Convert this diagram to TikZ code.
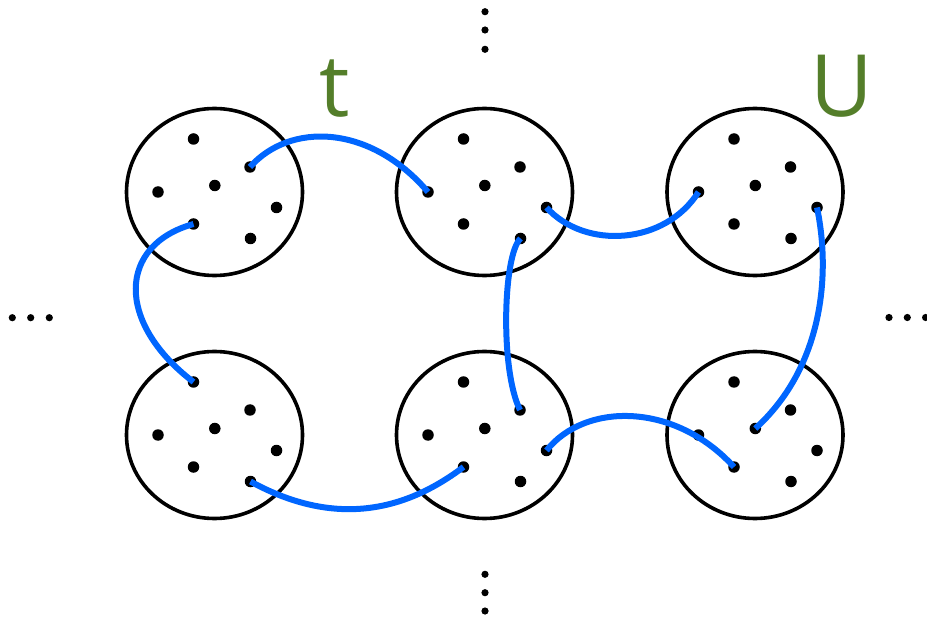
\documentclass[tikz,border=0pt]{standalone}
\usepackage{fontspec}
\setmainfont{Open Sans}
\usetikzlibrary{shapes.geometric}
\definecolor{linkblue}{RGB}{0,102,255}
\definecolor{labelgreen}{RGB}{84,126,42}
\begin{document}
\begin{tikzpicture}[x=1pt,y=-1pt,
  blob/.style={draw=black,line width=3.6pt,ellipse,minimum width=176pt,minimum height=167pt,inner sep=0pt},
  dot/.style={circle,fill=black,minimum size=11.5pt,inner sep=0pt},
  smalldot/.style={circle,fill=black,minimum size=7.2pt,inner sep=0pt},
  link/.style={draw=linkblue,line width=6pt},
  lbl/.style={text=labelgreen,font=\fontsize{86}{90}\selectfont,anchor=base,inner sep=0pt}]
\useasboundingbox (0,0) rectangle (927,620);
\foreach \e/\cx/\cy in {1/214.5/192,2/484.5/192,3/755/192,4/214.5/435,5/484.5/435,6/755/435}{
  \node[blob] (E\e) at (\cx,\cy) {};
  \foreach \d/\dx/\dy in {1/-21/-53,2/35.5/-25,3/0.3/-6.5,4/-56.5/0,5/62/15.5,6/-21/32,7/36/46.5}
    \node[dot] (E\e-\d) at (\cx+\dx,\cy+\dy) {};
}
% ellipsis dots
\foreach \i/\x/\y in {1/485/11.7,2/485/30,3/485/49.3}
  \node[smalldot] (top\i) at (\x,\y) {};
\foreach \i/\x/\y in {1/485/574.3,2/485/592.7,3/485/611}
  \node[smalldot] (bot\i) at (\x,\y) {};
\foreach \i/\x/\y in {1/12.3/317.7,2/30.7/317.7,3/49.3/317.7}
  \node[smalldot] (lef\i) at (\x,\y) {};
\foreach \i/\x/\y in {1/889/317.5,2/907.3/317.5,3/925.6/317.5}
  \node[smalldot] (rig\i) at (\x,\y) {};
% links
\draw[link] (E1-2.center) .. controls (290,122) and (370,124) .. (E2-4.center);
\draw[link] (E1-6.center) .. controls (118,245) and (115,322) .. (E4-1.center);
\draw[link] (E4-7.center) .. controls (330,525) and (400,515) .. (E5-6.center);
\draw[link] (E2-7.center) .. controls (503,255) and (500,370) .. (E5-2.center);
\draw[link] (E2-5.center) .. controls (585,250) and (665,245) .. (E3-4.center);
\draw[link] (E3-5.center) .. controls (832,280) and (820,370) .. (E6-3.center);
\draw[link] (E5-5.center) .. controls (585,402) and (675,402) .. (E6-6.center);
% labels
\node[lbl] (t) at (335,117) {t};
\node[lbl] (U) at (841.5,117) {U};
\end{tikzpicture}
\end{document}
